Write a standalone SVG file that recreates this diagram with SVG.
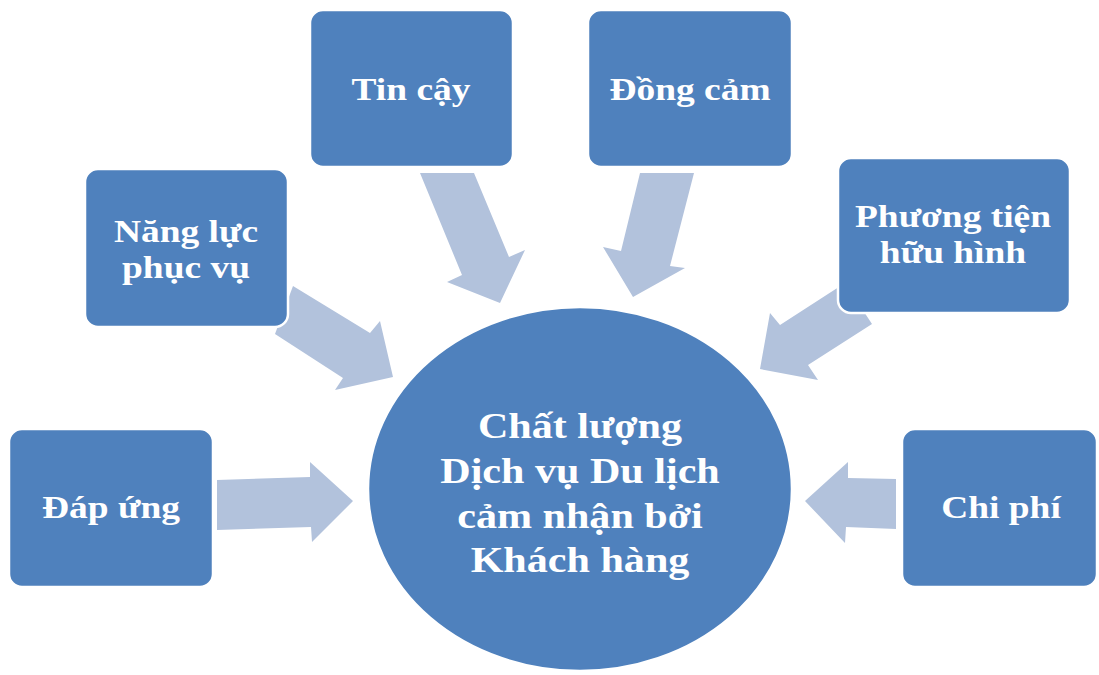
<svg xmlns="http://www.w3.org/2000/svg" width="1099" height="675" viewBox="0 0 1099 675">
<style>
.box{fill:#4F81BD;stroke:#FFFFFF;stroke-width:2.5}
.arr{fill:#B2C2DC}
.t{font-family:"Liberation Serif","Times New Roman",serif;font-weight:bold;font-size:32px;fill:#FFFFFF;text-anchor:middle}
.c{font-size:36px}
</style>
<rect width="1099" height="675" fill="#FFFFFF"/>
<g id="connectors">
<polygon class="arr" points="217,480 310,477 310,462 353,501 312,542 311,527 217,530"/>
<polygon class="arr" points="896,479 848,478 848,462 805,501 845,543 846,527 896,529"/>
<polygon class="arr" points="293,286 370,333 380,321 393,377 335,390 343,378 275,334"/>
<polygon class="arr" points="420,173 474,173 509,257 525,250 500,303 447,282 462,275"/>
<polygon class="arr" points="640,173 694,173 670,266 685,268 633,297 603,247 621,251"/>
<polygon class="arr" points="845,283 780,325 770,313 760,369 818,380 808,365 872,324"/>
</g>
<g id="center">
<ellipse class="box" cx="580" cy="489" rx="212" ry="182"/>
<text class="t c" transform="translate(580 438) scale(1.17 1)">Chất lượng</text>
<text class="t c" transform="translate(580 483) scale(1.17 1)">Dịch vụ Du lịch</text>
<text class="t c" transform="translate(580 528) scale(1.17 1)">cảm nhận bởi</text>
<text class="t c" transform="translate(580 572) scale(1.17 1)">Khách hàng</text>
</g>
<g id="tincay">
<rect class="box" x="310" y="10" width="203" height="157" rx="13"/>
<text class="t" transform="translate(411 100) scale(1.17 1)">Tin cậy</text>
</g>
<g id="dongcam">
<rect class="box" x="588" y="10" width="204" height="157" rx="13"/>
<text class="t" transform="translate(690 100) scale(1.17 1)">Đồng cảm</text>
</g>
<g id="nangluc">
<rect class="box" x="85" y="169" width="203" height="158" rx="13"/>
<text class="t" transform="translate(186 242) scale(1.17 1)">Năng lực</text>
<text class="t" transform="translate(186 278) scale(1.17 1)">phục vụ</text>
</g>
<g id="phuongtien">
<rect class="box" x="838" y="158" width="232" height="155" rx="13"/>
<text class="t" transform="translate(953 227) scale(1.17 1)">Phương tiện</text>
<text class="t" transform="translate(953 263) scale(1.17 1)">hữu hình</text>
</g>
<g id="dapung">
<rect class="box" x="9" y="429" width="204" height="158" rx="13"/>
<text class="t" transform="translate(111 518) scale(1.17 1)">Đáp ứng</text>
</g>
<g id="chiphi">
<rect class="box" x="902" y="429" width="195" height="158" rx="13"/>
<text class="t" transform="translate(1001 518) scale(1.17 1)">Chi phí</text>
</g>
</svg>
